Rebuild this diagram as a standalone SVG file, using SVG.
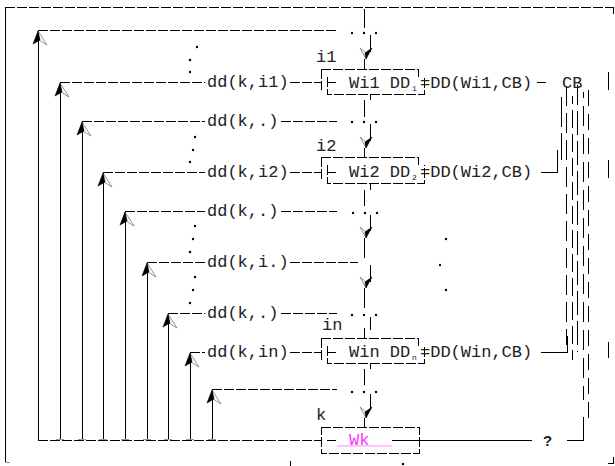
<svg xmlns="http://www.w3.org/2000/svg" width="615" height="466" viewBox="0 0 615 466">
<style>
.t{font-family:"Liberation Mono","Courier New",monospace;font-size:17px;fill:#222}
.sub{font-family:"Liberation Mono","Courier New",monospace;font-size:8px;fill:#222}
.s{stroke:#000;stroke-width:1;fill:none;shape-rendering:crispEdges}
.d{stroke:#000;stroke-width:1;fill:none;stroke-dasharray:10 2;shape-rendering:crispEdges}
.g{stroke:#999;stroke-width:1;fill:none;shape-rendering:crispEdges}
.dot{fill:#000}
</style>
<defs>
<g id="au"><polygon points="0,0 9,14 1,9" fill="#fff" stroke="#777" stroke-width="0.8"/><polygon points="0,0 -5,13 2,9" fill="#000" stroke="#000" stroke-width="0.6"/></g>
<g id="ad"><polygon points="0,0 -6,-11 0,-6" fill="#fff" stroke="#777" stroke-width="0.8"/><polygon points="0,0 6,-11 -1,-6" fill="#000" stroke="#000" stroke-width="0.6"/></g>
</defs>
<rect width="615" height="466" fill="#fff"/>
<g id="frame">
<path class="d" d="M5,7 H613"/>
<path class="s" d="M613,7 V14"/>
<path class="s" d="M5,7 V462"/>
<path class="g" d="M5,462 H10"/>
<path class="s" d="M290,461 V466"/>
<circle class="dot" cx="403" cy="464" r="1.2"/>
<path class="s" d="M613,457 V463 H608"/>
</g>
<g id="connectors">
<path class="s" d="M38,440 V31 M60,440 V82 M82,440 V121 M103,440 V172 M125,440 V211 M147,440 V262 M168,440 V313 M190,440 V352 M212,440 V389"/>
<path class="d" d="M38,30 H337"/>
<path class="d" d="M60,82 H205 M290,82 H321"/>
<path class="d" d="M82,121 H205 M281,121 H337"/>
<path class="d" d="M103,172 H205 M290,172 H321"/>
<path class="d" d="M125,211 H205 M281,211 H337"/>
<path class="d" d="M147,262 H205 M290,262 H358"/>
<path class="d" d="M168,313 H205 M281,313 H337"/>
<path class="d" d="M190,352 H205 M290,352 H321"/>
<path class="d" d="M212,389 H337"/>
<path class="d" d="M38,440 H321"/>
<path class="g" d="M56,439 H64 M78,439 H86 M99,439 H107 M121,439 H129 M143,439 H151 M164,439 H172 M186,439 H194 M208,439 H216"/>
<use href="#au" x="38" y="31"/>
<use href="#au" x="60" y="83"/>
<use href="#au" x="82" y="122"/>
<use href="#au" x="103" y="173"/>
<use href="#au" x="125" y="212"/>
<use href="#au" x="147" y="263"/>
<use href="#au" x="168" y="314"/>
<use href="#au" x="190" y="353"/>
<use href="#au" x="212" y="390"/>
<circle class="dot" cx="197" cy="47" r="1.2"/><circle class="dot" cx="190" cy="60" r="1.2"/><circle class="dot" cx="190" cy="72" r="1.2"/>
<circle class="dot" cx="195" cy="137" r="1.2"/><circle class="dot" cx="193" cy="150" r="1.2"/><circle class="dot" cx="190" cy="162" r="1.2"/>
<circle class="dot" cx="195" cy="226" r="1.2"/><circle class="dot" cx="193" cy="239" r="1.2"/><circle class="dot" cx="190" cy="252" r="1.2"/>
<circle class="dot" cx="195" cy="277" r="1.2"/><circle class="dot" cx="193" cy="290" r="1.2"/><circle class="dot" cx="190" cy="303" r="1.2"/>
<path class="s" d="M364,9 V28 M370,35 V52 M364,59 V69"/>
<path class="s" d="M370,94 V100 M364,100 V117 M370,124 V141 M364,148 V157"/>
<path class="s" d="M370,183 V190 M364,190 V206 M370,215 V231 M364,238 V258 M370,265 V282 M364,288 V308 M370,317 V330 M364,328 V338"/>
<path class="s" d="M370,363 V369 M364,369 V385 M370,394 V410 M364,418 V427"/>
<use href="#ad" x="366" y="59"/>
<use href="#ad" x="366" y="148"/>
<use href="#ad" x="366" y="238"/>
<use href="#ad" x="366" y="288"/>
<use href="#ad" x="366" y="418"/>
<g class="dot">
<circle cx="352" cy="33" r="1.2"/><circle cx="364" cy="33" r="1.2"/><circle cx="376" cy="33" r="1.2"/>
<circle cx="352" cy="122" r="1.2"/><circle cx="364" cy="122" r="1.2"/><circle cx="376" cy="122" r="1.2"/>
<circle cx="353" cy="213" r="1.2"/><circle cx="365" cy="213" r="1.2"/><circle cx="377" cy="213" r="1.2"/>
<circle cx="352" cy="315" r="1.2"/><circle cx="364" cy="315" r="1.2"/><circle cx="376" cy="315" r="1.2"/>
<circle cx="352" cy="392" r="1.2"/><circle cx="364" cy="392" r="1.2"/><circle cx="376" cy="392" r="1.2"/>
<circle cx="446" cy="239" r="1.2"/><circle cx="440" cy="265" r="1.2"/><circle cx="446" cy="290" r="1.2"/>
</g>
<path class="s" d="M537,82 H546"/>
<path class="s" d="M541,172 H557 V150"/>
<path class="s" d="M541,352 H567 V336"/>
<path class="s" d="M392,440 H532"/>
<path class="s" d="M567,440 H583 V417"/>
<path class="s" d="M561,97 V127 M561,133 V160"/>
<path class="s" stroke-dasharray="20 7" d="M566,86 V345"/>
<path class="s" stroke-dasharray="18 6" stroke-dashoffset="10" d="M572,96 V360"/>
<path class="s" stroke-dasharray="24 6" stroke-dashoffset="4" d="M577,85 V352"/>
<path class="s" stroke-dasharray="20 8" stroke-dashoffset="14" d="M583,92 V400"/>
<path class="s" stroke-dasharray="16 8" d="M588,90 V424"/>
<path class="s" d="M608,72 V90 M608,160 V178 M608,342 V358"/>
</g>
<g id="box1">
<path class="d" d="M321,69 H418 V77 M321,69 V90 M327,77 V94 H424 V76"/>
<path class="s" d="M327,82 H336"/>
<text class="t" x="316" y="62">i1</text>
<text class="t" x="349" y="88">Wi1 DD</text>
<text class="sub" x="412" y="91">1</text>
<text class="t" x="420" y="88">=DD(Wi1,CB)</text>
<text class="t" x="562" y="88">CB</text>
</g>
<g id="box2">
<path class="d" d="M321,157 H418 V165 M321,157 V180 M327,165 V183 H424 V165"/>
<path class="s" d="M327,172 H336"/>
<text class="t" x="316" y="151">i2</text>
<text class="t" x="349" y="177">Wi2 DD</text>
<text class="sub" x="412" y="180">2</text>
<text class="t" x="420" y="177">=DD(Wi2,CB)</text>
</g>
<g id="boxn">
<path class="d" d="M321,338 H418 V346 M321,338 V360 M327,346 V363 H424 V346"/>
<path class="s" d="M327,352 H336"/>
<text class="t" x="322" y="330">in</text>
<text class="t" x="349" y="357">Win DD</text>
<text class="sub" x="412" y="360">n</text>
<text class="t" x="420" y="357">=DD(Win,CB)</text>
</g>
<g id="boxk">
<path class="d" d="M321,427 H419 V453 H321 Z"/>
<path class="s" d="M327,440 H336"/>
<text class="t" x="316" y="420">k</text>
<text class="t" x="349" y="445" style="fill:#ff33ff">Wk</text>
<path d="M337,446 H392" stroke="#ff88ff" stroke-width="1"/>
<text x="543" y="446" style="font-family:'Liberation Sans',Arial,sans-serif;font-size:15px;font-weight:bold;fill:#222">?</text>
</g>
<g id="labels">
<text class="t" x="207" y="87">dd(k,i1)</text>
<text class="t" x="207" y="126">dd(k,.)</text>
<text class="t" x="207" y="177">dd(k,i2)</text>
<text class="t" x="207" y="216">dd(k,.)</text>
<text class="t" x="207" y="267">dd(k,i.)</text>
<text class="t" x="207" y="318">dd(k,.)</text>
<text class="t" x="207" y="357">dd(k,in)</text>
</g>
</svg>
